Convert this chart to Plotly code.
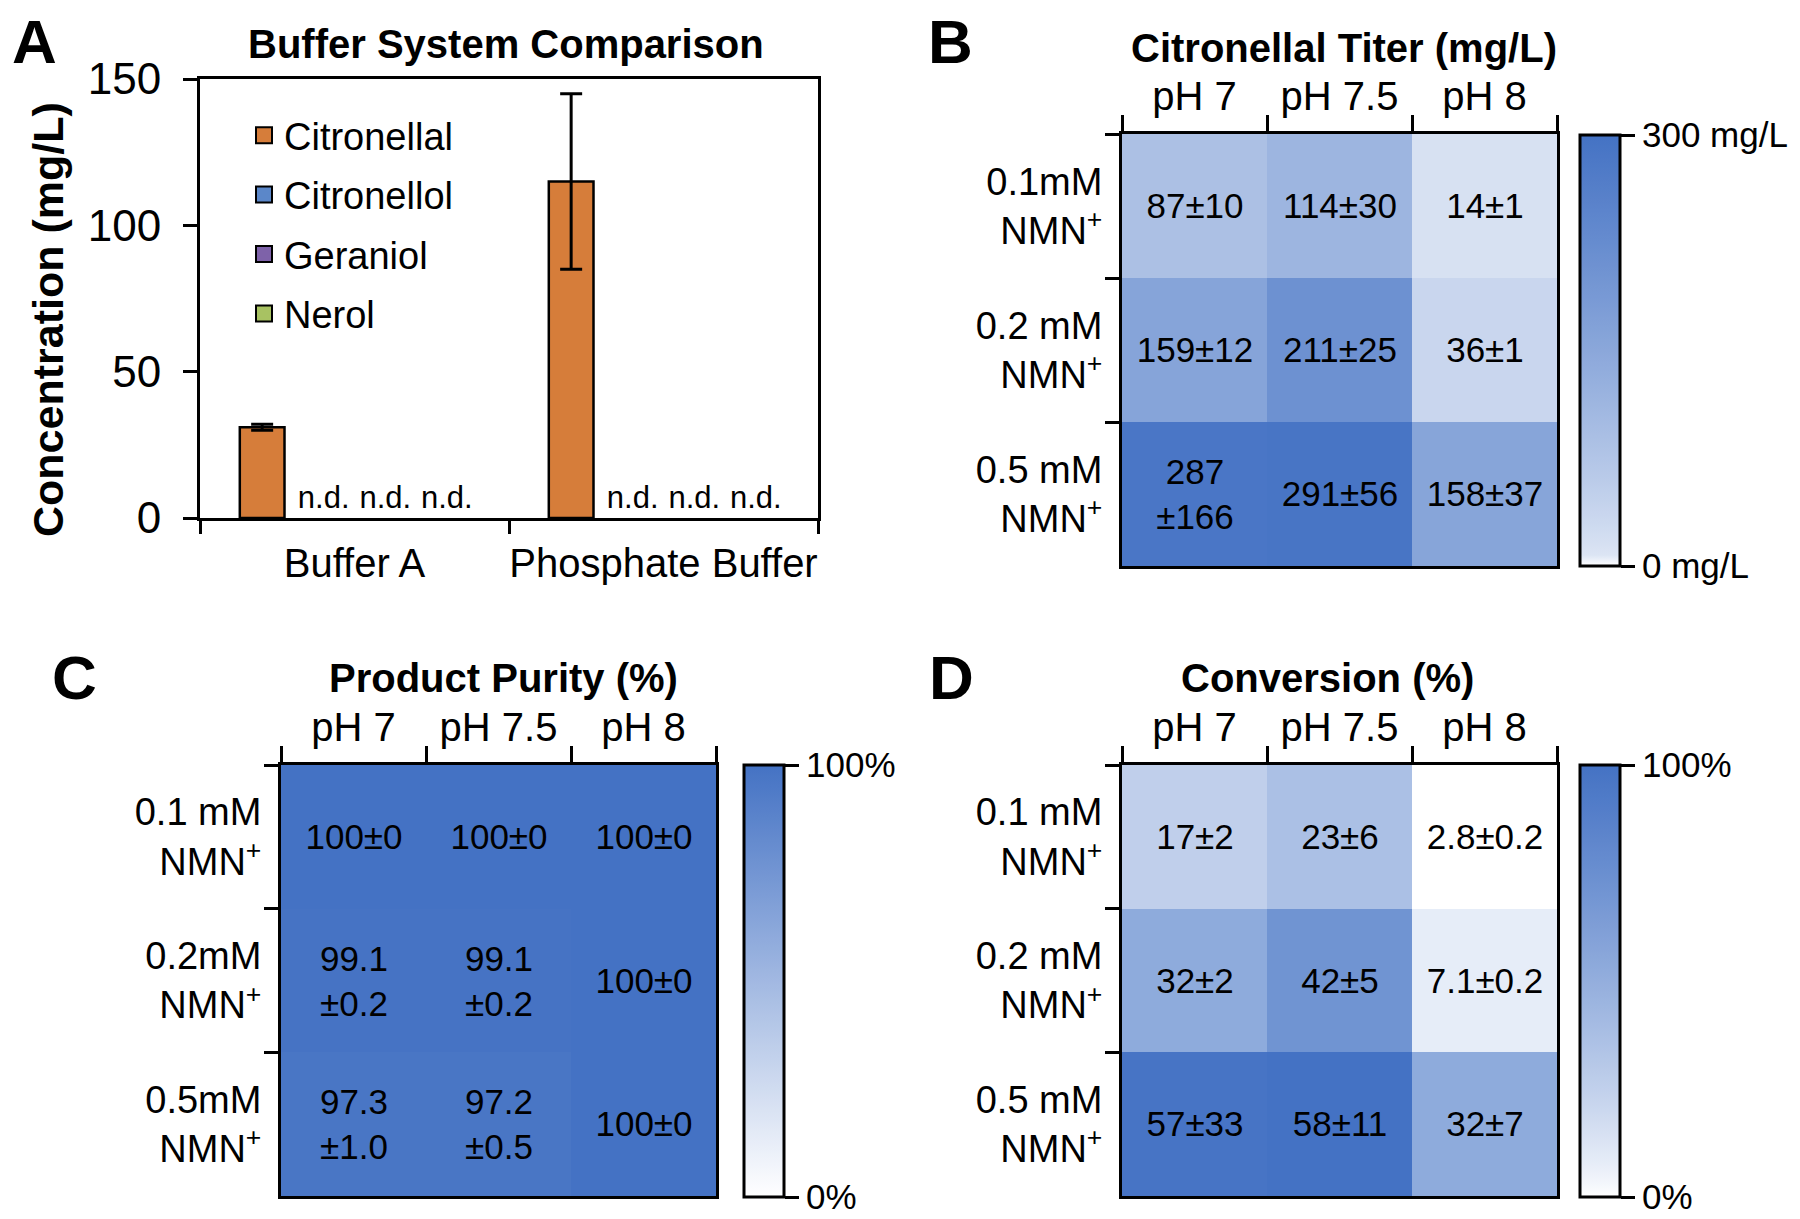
import plotly.graph_objects as go

W, H = 1800, 1219
FONT = "Liberation Sans, Arial, sans-serif"
BLUE = (68, 114, 196)

# ---------------- Panel A data ----------------
buffers = ["Buffer A", "Phosphate Buffer"]
compounds = ["Citronellal", "Citronellol", "Geraniol", "Nerol"]
citronellal = [31, 115]
citronellal_err = [1, 30]
citronellol = [0, 0]
geraniol = [0, 0]
nerol = [0, 0]
not_detected = "n.d."
compound_colors = ["#D67D3A", "#5B87C9", "#7E62A9", "#A8C262"]
conc_ticks = [0, 50, 100, 150]

# ---------------- Heatmap data ----------------
ph_labels = ["pH 7", "pH 7.5", "pH 8"]

rows_B = ["0.1mM<br>NMN<sup>+</sup>", "0.2 mM<br>NMN<sup>+</sup>", "0.5 mM<br>NMN<sup>+</sup>"]
titer_mean = [[87, 114, 14], [159, 211, 36], [287, 291, 158]]
titer_sd = [[10, 30, 1], [12, 25, 1], [166, 56, 37]]

rows_C = ["0.1 mM<br>NMN<sup>+</sup>", "0.2mM<br>NMN<sup>+</sup>", "0.5mM<br>NMN<sup>+</sup>"]
purity_mean = [[100, 100, 100], [99.1, 99.1, 100], [97.3, 97.2, 100]]
purity_sd = [[0, 0, 0], [0.2, 0.2, 0], [1.0, 0.5, 0]]

rows_D = ["0.1 mM<br>NMN<sup>+</sup>", "0.2 mM<br>NMN<sup>+</sup>", "0.5 mM<br>NMN<sup>+</sup>"]
conv_mean = [[17, 23, 2.8], [32, 42, 7.1], [57, 58, 32]]
conv_sd = [[2, 6, 0.2], [2, 5, 0.2], [33, 11, 7]]


def px_x(p):
    return p / W


def px_y(p):
    return 1 - p / H


CHAR_W = {".": 0.278, "±": 0.549}


def cell_label(m, s):
    t = f"{m}±{s}"
    w = sum(CHAR_W.get(c, 0.556) for c in t)
    return f"{m}<br>±{s}" if w > 3.6 else t


def labels(means, sds):
    return [[cell_label(m, s) for m, s in zip(rm, rs)] for rm, rs in zip(means, sds)]


def scale(base, gamma, n=41):
    out = []
    for i in range(n):
        t = i / (n - 1)
        f = 0.0 if i == 0 else base + (1 - base) * t ** gamma
        c = [round(255 + (b - 255) * f) for b in BLUE]
        out.append([t, f"rgb({c[0]},{c[1]},{c[2]})"])
    return out


fig = go.Figure()

# ---------------- Panel A bars ----------------
series = [citronellal, citronellol, geraniol, nerol]
errors = {"Citronellal": citronellal_err}
for name, vals, color in zip(compounds, series, compound_colors):
    err = errors.get(name)
    fig.add_trace(go.Bar(
        x=buffers, y=vals, name=name,
        marker=dict(color=color, line=dict(color="black", width=[2.5 if v > 0 else 0 for v in vals])),
        error_y=dict(type="data", array=err, color="black", thickness=3, width=11, visible=err is not None),
        text=[not_detected if v == 0 else None for v in vals],
        textposition="outside", constraintext="none", cliponaxis=False,
        textfont=dict(size=31, color="black", family=FONT),
        showlegend=False, xaxis="x", yaxis="y", legendgroup=name,
    ))
# legend entries (square swatches)
for name, color in zip(compounds, compound_colors):
    fig.add_trace(go.Scatter(
        x=[None], y=[None], mode="markers", name=name, legendgroup=name,
        marker=dict(symbol="square", size=16, color=color, line=dict(color="black", width=2)),
        xaxis="x", yaxis="y", showlegend=True,
    ))

# ---------------- Heatmaps ----------------
heat_specs = [
    ("x2", "y2", rows_B, titer_mean, titer_sd, 0, 300, scale(0.15, 0.85),
     dict(x=px_x(1580), top=135, bottom=566, ticktext=["0 mg/L", "300 mg/L"])),
    ("x3", "y3", rows_C, purity_mean, purity_sd, 0, 100, scale(0.0, 1.0),
     dict(x=px_x(744), top=765, bottom=1197, ticktext=["0%", "100%"])),
    ("x4", "y4", rows_D, conv_mean, conv_sd,
     min(min(r) for r in conv_mean), max(max(r) for r in conv_mean), scale(0.0, 0.8),
     dict(x=px_x(1580), top=765, bottom=1197, ticktext=["0%", "100%"])),
]
for xa, ya, rows, means, sds, zmin, zmax, cs, cb in heat_specs:
    fig.add_trace(go.Heatmap(
        x=ph_labels, y=rows, z=means, zmin=zmin, zmax=zmax, colorscale=cs,
        text=labels(means, sds), texttemplate="%{text}",
        textfont=dict(size=35, color="black", family=FONT),
        xaxis=xa, yaxis=ya, showscale=True,
        colorbar=dict(
            x=cb["x"], xanchor="left", xpad=0, ypad=0,
            y=px_y((cb["top"] + cb["bottom"]) / 2), yanchor="middle",
            len=cb["bottom"] - cb["top"], lenmode="pixels",
            thickness=40, thicknessmode="pixels",
            outlinewidth=3, outlinecolor="black",
            tickmode="array", tickvals=[zmin, zmax], ticktext=cb["ticktext"],
            ticks="outside", ticklen=14, tickwidth=3, tickcolor="black",
            tickfont=dict(size=35, color="black", family=FONT),
        ),
    ))

# ---------------- Axes ----------------
line = dict(showline=True, linewidth=3, linecolor="black", mirror=True, showgrid=False, zeroline=False,
            ticks="outside", tickwidth=3, tickcolor="black")

heat_x = dict(type="category", side="top", tickson="boundaries", ticklen=16, tickangle=0,
              tickfont=dict(size=40), ticklabelstandoff=5, **line)
heat_y = dict(type="category", autorange="reversed", tickson="boundaries", ticklen=14,
              tickfont=dict(size=38), ticklabelstandoff=9, **line)

fig.update_layout(
    width=W, height=H, margin=dict(l=0, r=0, t=0, b=0, autoexpand=False),
    paper_bgcolor="white", plot_bgcolor="white",
    font=dict(family=FONT, color="black", size=36),
    barmode="group", bargap=0.203, bargroupgap=0.274,
    xaxis=dict(domain=[px_x(200), px_x(818)], anchor="y", type="category", tickson="boundaries",
               tickangle=0, ticklen=13, tickfont=dict(size=40), ticklabelstandoff=8, **line),
    yaxis=dict(domain=[px_y(518), px_y(79)], anchor="x", range=[0, 150], tickmode="array",
               tickvals=conc_ticks, ticklen=14, tickfont=dict(size=44), ticklabelstandoff=13, **line),
    xaxis2=dict(domain=[px_x(1122), px_x(1557)], anchor="y2", **heat_x),
    yaxis2=dict(domain=[px_y(566), px_y(134)], anchor="x2", **heat_y),
    xaxis3=dict(domain=[px_x(281), px_x(716)], anchor="y3", **heat_x),
    yaxis3=dict(domain=[px_y(1196), px_y(765)], anchor="x3", **heat_y),
    xaxis4=dict(domain=[px_x(1122), px_x(1557)], anchor="y4", **heat_x),
    yaxis4=dict(domain=[px_y(1196), px_y(765)], anchor="x4", **heat_y),
    showlegend=True,
    legend=dict(x=px_x(244), y=px_y(104), xanchor="left", yanchor="top",
                font=dict(size=38, color="black", family=FONT), tracegroupgap=7,
                bgcolor="rgba(0,0,0,0)", itemwidth=30),
)

# ---------------- Text annotations ----------------
def ann(text, x, y, size, angle=0):
    fig.add_annotation(text=text, x=px_x(x), y=px_y(y), xref="paper", yref="paper",
                       xanchor="center", yanchor="middle", showarrow=False, textangle=angle,
                       font=dict(size=size, color="black", family=FONT))


ann("<b>A</b>", 34, 42, 62)
ann("<b>B</b>", 950, 42, 62)
ann("<b>C</b>", 74, 677, 62)
ann("<b>D</b>", 951, 677, 62)
ann("<b>Buffer System Comparison</b>", 506, 44, 40)
ann("<b>Citronellal Titer (mg/L)</b>", 1344, 48, 40)
ann("<b>Product Purity (%)</b>", 503, 678, 40)
ann("<b>Conversion (%)</b>", 1327, 678, 40)
ann("<b>Concentration (mg/L)</b>", 48, 320, 43, angle=-90)

fig.write_html("out.html", config={"displayModeBar": False},
               post_script="document.body.style.margin='0';")
